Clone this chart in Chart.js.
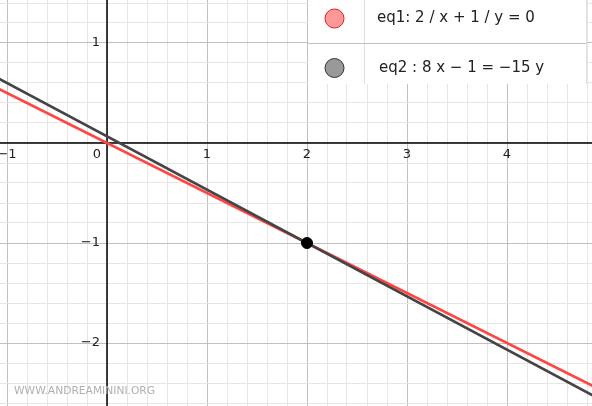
<!DOCTYPE html>
<html>
<head>
<meta charset="utf-8">
<script src="https://cdn.jsdelivr.net/npm/chart.js@4/dist/chart.umd.min.js"></script>
<style>
  html, body { margin: 0; padding: 0; background: #fff; }
  #wrap { width: 592px; height: 406px; position: relative; }
</style>
</head>
<body>
<div id="wrap"><canvas id="plot"></canvas></div>
<script>
// view window
const xRange = [-1.07, 4.85]
const yRange = [-2.63, 1.43]

// tick labels
const xTickLabels = [-1, 1, 2, 3, 4]
const yTickLabels = [1, -1, -2]

// eq1: 2/x + 1/y = 0
const eq1Points = [{ x: -1.2, y: 0.6 }, { x: 5, y: -2.5 }]
// eq2: 8x - 1 = -15y
const eq2Points = [{ x: -1.2, y: 0.707 }, { x: 5, y: -2.6 }]
// intersection
const intersection = [{ x: 2, y: -1 }]

const legendItems = [
  { text: "eq1: 2 / x + 1 / y = 0", fill: "#ff9999", stroke: "#e02020" },
  { text: "eq2 : 8 x − 1 = −15 y", fill: "#999999", stroke: "#333333" },
]

const minus = (v) => (v < 0 ? "−" + Math.abs(v) : String(v))

function gridTicks(min, max) {
  const ticks = []
  for (let k = Math.ceil(min * 5); k <= Math.floor(max * 5); k++) {
    ticks.push({ value: k / 5 })
  }
  return ticks
}

function gridColor(ctx) {
  const v = ctx.tick ? ctx.tick.value : NaN
  if (Math.abs(v - Math.round(v)) < 1e-9) return "#c0c0c0"
  return "#e6e6e6"
}

const axesLines = {
  id: "axesLines",
  beforeDatasetsDraw(chart) {
    const { ctx, scales, chartArea } = chart
    const x0 = scales.x.getPixelForValue(0)
    const y0 = scales.y.getPixelForValue(0)
    ctx.save()
    ctx.strokeStyle = "#000"
    ctx.lineWidth = 1.5
    ctx.beginPath()
    ctx.moveTo(chartArea.left, y0)
    ctx.lineTo(chartArea.right, y0)
    ctx.moveTo(x0, chartArea.top)
    ctx.lineTo(x0, chartArea.bottom)
    ctx.stroke()
    ctx.restore()
  },
}

const overlay = {
  id: "overlay",
  afterDraw(chart) {
    const { ctx, scales } = chart
    const xs = scales.x
    const ys = scales.y
    const x0 = xs.getPixelForValue(0)
    const y0 = ys.getPixelForValue(0)

    ctx.save()
    ctx.fillStyle = "#222"
    ctx.font = "13px 'DejaVu Sans'"
    ctx.textBaseline = "middle"

    ctx.textAlign = "center"
    xTickLabels.forEach((v) => {
      ctx.fillText(minus(v), xs.getPixelForValue(v), y0 + 12)
    })
    ctx.textAlign = "right"
    ctx.fillText("0", x0 - 6, y0 + 12)
    yTickLabels.forEach((v) => {
      ctx.fillText(minus(v), x0 - 7, ys.getPixelForValue(v))
    })

    // watermark
    ctx.textAlign = "left"
    ctx.fillStyle = "#b0b0b0"
    ctx.font = "10.7px 'DejaVu Sans'"
    ctx.fillText("WWW.ANDREAMININI.ORG", 14, 391)

    // algebra-style legend box
    const bx = 308, bw = 278, rowH = 42
    ctx.fillStyle = "#fff"
    ctx.fillRect(bx, 0, bw, rowH * 2)
    ctx.strokeStyle = "#e0e0e0"
    ctx.lineWidth = 1
    ctx.beginPath()
    ctx.moveTo(364.5, 0)
    ctx.lineTo(364.5, rowH * 2)
    ctx.moveTo(bx + bw + 0.5, 0)
    ctx.lineTo(bx + bw + 0.5, rowH * 2)
    ctx.stroke()
    ctx.strokeStyle = "#c0c0c0"
    ctx.beginPath()
    ctx.moveTo(bx, 43.5)
    ctx.lineTo(bx + bw, 43.5)
    ctx.stroke()

    ctx.font = "15px 'DejaVu Sans'"
    legendItems.forEach((item, i) => {
      const cy = i === 0 ? 18.5 : 68
      ctx.beginPath()
      ctx.arc(334.5, cy, 9.5, 0, Math.PI * 2)
      ctx.fillStyle = item.fill
      ctx.fill()
      ctx.strokeStyle = item.stroke
      ctx.lineWidth = 1
      ctx.stroke()
      ctx.fillStyle = "#222"
      ctx.textAlign = "left"
      ctx.fillText(item.text, i === 0 ? 377 : 379, cy)
    })
    ctx.restore()
  },
}

new Chart(document.getElementById("plot"), {
  type: "scatter",
  data: {
    datasets: [
      {
        label: "eq1",
        data: eq1Points,
        showLine: true,
        borderColor: "#ff4444",
        borderWidth: 2.5,
        pointRadius: 0,
        order: 2,
      },
      {
        label: "eq2",
        data: eq2Points,
        showLine: true,
        borderColor: "#444444",
        borderWidth: 2.5,
        pointRadius: 0,
        order: 1,
      },
      {
        label: "A",
        data: intersection,
        pointRadius: 5.5,
        pointBackgroundColor: "#000",
        pointBorderColor: "#000",
        order: 0,
      },
    ],
  },
  options: {
    responsive: true,
    maintainAspectRatio: false,
    animation: false,
    layout: { padding: 0, autoPadding: false },
    plugins: {
      legend: { display: false },
      tooltip: { enabled: false },
    },
    scales: {
      x: {
        type: "linear",
        min: xRange[0],
        max: xRange[1],
        afterBuildTicks: (scale) => { scale.ticks = gridTicks(scale.min, scale.max) },
        ticks: { display: false },
        border: { display: false },
        grid: { color: gridColor, drawTicks: false },
      },
      y: {
        type: "linear",
        min: yRange[0],
        max: yRange[1],
        afterBuildTicks: (scale) => { scale.ticks = gridTicks(scale.min, scale.max) },
        ticks: { display: false },
        border: { display: false },
        grid: { color: gridColor, drawTicks: false },
      },
    },
  },
  plugins: [axesLines, overlay],
})
</script>
</body>
</html>
